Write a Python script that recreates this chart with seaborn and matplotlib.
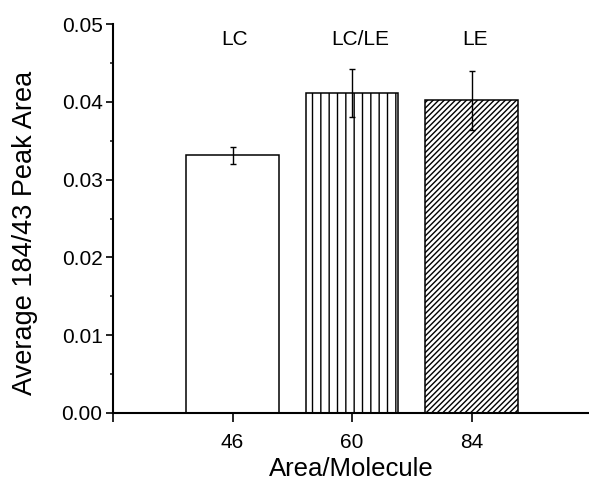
import matplotlib
matplotlib.use('Agg')
import matplotlib.pyplot as plt
import seaborn as sns
import pandas as pd
from matplotlib.ticker import MultipleLocator, FormatStrFormatter

# ---- data ----
areas = ['46', '60', '84']
phases = ['LC', 'LC/LE', 'LE']
means = [0.0331, 0.0411, 0.0402]
errors = [0.00105, 0.0031, 0.0038]

sns.set_style('ticks')
plt.rcParams['font.family'] = ['Liberation Sans', 'DejaVu Sans']
plt.rcParams['hatch.linewidth'] = 1.0
plt.rcParams['hatch.color'] = 'black'

df = pd.DataFrame({'area': areas, 'value': means})

fig = plt.figure(figsize=(5.89, 4.80), dpi=100)
ax = fig.add_axes([113/589, 1-413/480, (589-113)/589, (413-24)/480])

sns.barplot(data=df, x='area', y='value', order=areas, width=0.775,
            color='white', edgecolor='black', linewidth=1.1,
            errorbar=None, ax=ax, zorder=2)

hatches = ['', '||', '//////']
for p, h in zip(ax.patches, hatches):
    p.set_facecolor('white')
    p.set_edgecolor('black')
    p.set_hatch(h)

xs = [p.get_x() + p.get_width() / 2 for p in ax.patches]
ax.errorbar(xs, means, yerr=errors, fmt='none', ecolor='black',
            elinewidth=1.0, capsize=2.5, capthick=1.0, zorder=3)

label_offsets = [0.02, 0.065, 0.03]
for x, lab, off in zip(xs, phases, label_offsets):
    ax.text(x + off, 0.048, lab, ha='center', va='center', fontsize=15, color='black')

ax.set_xlim(-1, 2.983)
ax.set_ylim(0, 0.05)
ax.set_xticks([-1, 0, 1, 2])
ax.set_xticklabels([''] + areas)
ax.yaxis.set_major_locator(MultipleLocator(0.01))
ax.yaxis.set_minor_locator(MultipleLocator(0.005))
ax.yaxis.set_major_formatter(FormatStrFormatter('%.2f'))

sns.despine(ax=ax)
for s in ['left', 'bottom']:
    ax.spines[s].set_linewidth(1.5)
    ax.spines[s].set_color('black')

ax.tick_params(axis='y', which='major', length=5, width=1.2, labelsize=15, pad=2.5, colors='black')
ax.tick_params(axis='y', which='minor', length=2.5, width=1.2, left=True)
ax.tick_params(axis='x', which='major', length=6.5, width=1.2, labelsize=15, pad=8, colors='black')

ax.set_xlabel('Area/Molecule', fontsize=18.5, color='black')
ax.set_ylabel('Average 184/43 Peak Area', fontsize=19.5, color='black')
ax.xaxis.set_label_coords(0.5, -0.113)
ax.yaxis.set_label_coords(-0.157, 0.4627)

fig.savefig('out.png', dpi=100)
